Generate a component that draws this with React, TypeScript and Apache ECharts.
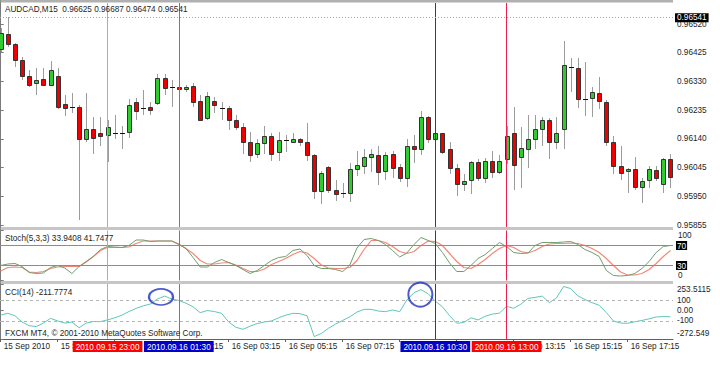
import React, { useEffect, useRef } from "react";
import * as echarts from "echarts";

const symbolTitle = "AUDCAD,M15  0.96625 0.96687 0.96474 0.96541";
const stochTitle = "Stoch(5,3,3) 33.9408 41.7477";
const cciTitle = "CCI(14) -211.7774";
const copyright = "FXCM MT4, © 2001-2010 MetaQuotes Software Corp.";

const opens = [
  0.96437, 0.96487, 0.96454, 0.964, 0.96347, 0.96324, 0.96337, 0.96317, 0.96347, 0.96254,
  0.96244, 0.96244, 0.96138, 0.96171, 0.96158, 0.96154, 0.96161, 0.96158, 0.96164, 0.96261,
  0.96241, 0.96244, 0.96257, 0.96341, 0.96311, 0.96311, 0.96304, 0.96314, 0.96264, 0.96208,
  0.96264, 0.96241, 0.96241, 0.96201, 0.96178, 0.96128, 0.96091, 0.96125, 0.96151, 0.96095,
  0.96135, 0.96131, 0.96141, 0.96128, 0.96088, 0.95968, 0.96048, 0.95972, 0.95962, 0.95962,
  0.96041, 0.96051, 0.96081, 0.96088, 0.96035, 0.96091, 0.96048, 0.96011, 0.96118, 0.96108,
  0.96211, 0.96141, 0.96158, 0.96105, 0.96045, 0.95992, 0.96005, 0.96065, 0.96011, 0.96068,
  0.96031, 0.96075, 0.96158, 0.96081, 0.96108, 0.96141, 0.96171, 0.96204, 0.96128, 0.96174,
  0.96377, 0.96374, 0.96271, 0.96274, 0.96291, 0.96261, 0.96128, 0.96051, 0.96035, 0.96041,
  0.95982, 0.96005, 0.96038, 0.95992, 0.96075,
];
const highs = [
  0.96507, 0.96543, 0.96457, 0.9641, 0.96367, 0.96374, 0.96374, 0.96397, 0.96374, 0.96284,
  0.96291, 0.96251, 0.96291, 0.96211, 0.96211, 0.96201, 0.96218, 0.96184, 0.96271, 0.96274,
  0.96301, 0.96261, 0.96354, 0.96354, 0.96334, 0.96334, 0.96317, 0.96324, 0.96284, 0.96294,
  0.96277, 0.96261, 0.96248, 0.96218, 0.96191, 0.96164, 0.96141, 0.96181, 0.96158, 0.96164,
  0.96154, 0.96158, 0.96144, 0.96191, 0.96091, 0.96035, 0.96051, 0.96005, 0.95995, 0.96061,
  0.96101, 0.96105, 0.96108, 0.96118, 0.96095, 0.96101, 0.96058, 0.96138, 0.96154, 0.96231,
  0.96214, 0.96174, 0.96161, 0.96128, 0.96058, 0.96025, 0.96068, 0.96075, 0.96078, 0.96101,
  0.96088, 0.96181, 0.96244, 0.96178, 0.96218, 0.96218, 0.96211, 0.96208, 0.96211, 0.96464,
  0.96407, 0.96407, 0.96394, 0.96311, 0.96344, 0.96268, 0.96148, 0.96115, 0.96045, 0.96081,
  0.96011, 0.96051, 0.96051, 0.96078, 0.96091,
];
const lows = [
  0.96427, 0.96444, 0.96377, 0.96334, 0.96311, 0.96284, 0.96314, 0.96314, 0.96238, 0.96214,
  0.96224, 0.95872, 0.96131, 0.96091, 0.96115, 0.96065, 0.96141, 0.96108, 0.96144, 0.96204,
  0.96218, 0.96218, 0.96251, 0.96284, 0.96244, 0.96277, 0.96294, 0.96244, 0.96198, 0.96201,
  0.96224, 0.96201, 0.96168, 0.96168, 0.96091, 0.96065, 0.96078, 0.96091, 0.96068, 0.96068,
  0.96098, 0.96128, 0.96118, 0.96068, 0.95942, 0.95925, 0.95962, 0.95935, 0.95945, 0.95932,
  0.96018, 0.96025, 0.96031, 0.95988, 0.96005, 0.96011, 0.95998, 0.95982, 0.96061, 0.96085,
  0.96125, 0.96118, 0.96091, 0.96025, 0.95952, 0.95968, 0.95958, 0.96002, 0.95995, 0.96011,
  0.96025, 0.96058, 0.95972, 0.95978, 0.96045, 0.96108, 0.96118, 0.96075, 0.96108, 0.96105,
  0.96294, 0.96241, 0.96214, 0.96211, 0.96238, 0.96118, 0.96025, 0.96005, 0.95962, 0.95972,
  0.95928, 0.95978, 0.96002, 0.95962, 0.95978,
];
const closes = [
  0.9649, 0.96454, 0.964, 0.96347, 0.96317, 0.96334, 0.96317, 0.96367, 0.96244, 0.96241,
  0.96243, 0.96141, 0.96174, 0.96144, 0.96148, 0.96178, 0.9616, 0.96157, 0.96251, 0.96231,
  0.9624, 0.96234, 0.96341, 0.96307, 0.9631, 0.96304, 0.96311, 0.96261, 0.96204, 0.96281,
  0.96251, 0.9624, 0.96201, 0.96178, 0.96131, 0.96088, 0.96125, 0.96151, 0.96091, 0.96135,
  0.96134, 0.96141, 0.96128, 0.96085, 0.95968, 0.96028, 0.95972, 0.95958, 0.95961, 0.96041,
  0.96055, 0.96081, 0.96091, 0.96031, 0.96088, 0.96045, 0.96011, 0.96118, 0.96108, 0.96211,
  0.96141, 0.96158, 0.96098, 0.96045, 0.95992, 0.96002, 0.96065, 0.96011, 0.96068, 0.96031,
  0.96068, 0.96148, 0.96055, 0.96111, 0.96141, 0.96171, 0.96204, 0.96128, 0.96161, 0.96384,
  0.96376, 0.96271, 0.9627, 0.96294, 0.96264, 0.96128, 0.96051, 0.96028, 0.96041, 0.95982,
  0.96002, 0.96041, 0.96011, 0.96075, 0.96015,
];

const stochMain = [
  30, 33, 34, 28, 16, 14, 15, 26, 30, 25, 14, 28, 38, 48, 62, 68, 67, 66, 70, 81,
  81, 78, 79, 79, 79, 72, 64, 46, 27, 27, 36, 42, 36, 30, 22, 14, 20, 30, 40, 46,
  48, 60, 63, 50, 30, 24, 24, 22, 18, 31, 65, 82, 84, 80, 72, 60, 47, 55, 72, 86,
  80, 74, 56, 35, 18, 18, 30, 44, 52, 64, 76, 68, 56, 54, 55, 70, 76, 76, 76, 77,
  78, 72, 62, 56, 48, 20, 10, 9, 10, 14, 24, 38, 56, 68, 70,
];
const stochSignal = [
  19, 26, 27, 26, 17, 16, 18, 24, 27, 28, 28, 28, 37, 48, 60, 66, 66, 66, 67, 74,
  79, 79, 79, 79, 79, 73, 64, 54, 40, 33, 33, 35, 36, 31, 24, 18, 18, 23, 32, 38,
  44, 52, 58, 55, 44, 31, 25, 24, 24, 26, 40, 62, 80, 80, 76, 68, 58, 54, 58, 70,
  79, 78, 70, 54, 38, 26, 24, 32, 42, 54, 64, 70, 66, 58, 55, 60, 68, 73, 74, 74,
  75, 74, 70, 64, 56, 44, 30, 17, 11, 11, 14, 22, 34, 48, 60,
];
const cciValues = [
  -43, -27, -50, -110, -145, -154, -120, -75, -100, -120, -110, -165, -120, -106, -106, -90, -70, -45, -10, 20,
  45, 62, 110, 138, 110, 96, 70, 35, -21, 0, -10, -27, -110, -160, -180, -150, -125, -110, -100, -70,
  -45, -27, -30, -50, -249, -220, -170, -130, -95, -60, -15, 11, 11, -5, -11, 5, -11, 100, 170, 200,
  160, 90, 36, -50, -122, -115, -70, -90, -55, -35, -25, 40, 21, 60, 116, 125, 138, 75, 120, 230,
  210, 140, 105, 75, 50, -20, -100, -120, -122, -108, -95, -80, -62, -58, -60,
];

const priceTicks = [0.95855, 0.9595, 0.96045, 0.9614, 0.96235, 0.9633, 0.96425, 0.9652];
const bidPrice = 0.96541;
const stochTicks = [0, 30, 70, 100];
const stochLevels = [70, 30];
const cciTicks = [253.5115, 100, 0, -100, -272.549];
const cciLevels = [100, -100];
const timeTickIndex = [0, 8, 16, 24, 32, 40, 48, 56, 64, 72, 80, 88];
const timeTickLabels = [
  "15 Sep 2010", "15 Sep 21:15", "15 Sep 23:15", "16 Sep 01:15", "16 Sep 03:15", "16 Sep 05:15",
  "16 Sep 07:15", "16 Sep 09:15", "16 Sep 11:15", "16 Sep 13:15", "16 Sep 15:15", "16 Sep 17:15",
];
// labels that are not entirely covered by the vertical-line date boxes
const shownLabelIndex = [0, 8, 24, 32, 40, 48, 72, 80, 88];
const vLineIndex = [15, 25, 61, 71];
const vLineLabels = ["2010.09.15 23:00", "2010.09.16 01:30", "2010.09.16 10:30", "2010.09.16 13:00"];
const cciMarks = [
  [22.5, 130],
  [58.9, 152],
];

const FONT = "Liberation Sans";
const FS = 8.2;
const TXT = "#1e1e1e";
const AX = "#7a7a7a";
const X_MIN = -0.098;
const X_MAX = 94.358;
const vLineColors = ["#ff8a80", "#6c6cf2", "#2a2ad8", "#ea2050"];
const vBoxColors = ["#ff0000", "#0000c8", "#0000c8", "#ff0000"];

function vLines(withLabel: boolean) {
  return vLineIndex.map((idx, k) => ({
    xAxis: idx,
    lineStyle: { color: vLineColors[k], type: "solid", width: 1, opacity: 1 },
    label: withLabel
      ? {
          show: true,
          position: "start",
          formatter: vLineLabels[k],
          backgroundColor: vBoxColors[k],
          color: "#fff",
          padding: [2, 3, 1, 3],
          fontSize: FS,
          fontFamily: FONT,
          distance: 2,
        }
      : { show: false },
  }));
}

function near(a: number, b: number) {
  return Math.abs(a - b) < 1e-6;
}

function buildOption(): any {
  const hiddenX = (gi: number) => ({
    gridIndex: gi,
    type: "value",
    min: X_MIN,
    max: X_MAX,
    show: false,
    splitLine: { show: false },
  });
  const yBase = {
    type: "value",
    position: "right",
    splitLine: { show: false },
    axisLine: { show: true, lineStyle: { color: AX } },
  };
  const candleData = opens.map((o, i) => [i, o, highs[i], lows[i], closes[i]]);
  return {
    animation: false,
    backgroundColor: "#ffffff",
    grid: [
      { left: 0, top: 3, width: 673, height: 224 },
      { left: 0, top: 230.5, width: 673, height: 50 },
      { left: 0, top: 284, width: 673, height: 55 },
    ],
    xAxis: [
      hiddenX(0),
      hiddenX(1),
      {
        gridIndex: 2,
        type: "value",
        min: X_MIN,
        max: X_MAX,
        splitLine: { show: false },
        axisLine: { show: true, onZero: false, lineStyle: { color: "#606060" } },
        axisTick: { show: true, length: 3, customValues: timeTickIndex, lineStyle: { color: "#606060" } },
        axisLabel: {
          customValues: shownLabelIndex,
          formatter: (v: number) => timeTickLabels[timeTickIndex.indexOf(Math.round(v))] || "",
          align: "left",
          padding: [0, 0, 0, 3],
          margin: 3,
          color: TXT,
          fontSize: FS,
          fontFamily: FONT,
        },
      },
    ],
    yAxis: [
      {
        ...yBase,
        gridIndex: 0,
        min: 0.958484,
        max: 0.965895,
        axisTick: { show: true, length: 3, customValues: priceTicks, lineStyle: { color: AX } },
        axisLabel: {
          customValues: priceTicks,
          formatter: (v: number) => v.toFixed(5),
          color: TXT,
          fontSize: FS,
          fontFamily: FONT,
          margin: 4,
        },
      },
      {
        ...yBase,
        gridIndex: 1,
        min: 0,
        max: 100,
        axisTick: { show: true, length: 3, customValues: stochTicks, lineStyle: { color: AX } },
        axisLabel: {
          customValues: stochTicks,
          formatter: (v: number) =>
            near(v, 70) || near(v, 30) ? `{b|${Math.round(v)}}` : near(v, 100) ? "{t|100}" : "{z|0}",
          margin: 3,
          color: TXT,
          fontSize: FS,
          fontFamily: FONT,
          rich: {
            b: { backgroundColor: "#000", color: "#fff", padding: [1, 1, 0, 1], fontSize: FS, fontFamily: FONT },
            t: { padding: [9, 0, 0, 2], color: TXT, fontSize: FS, fontFamily: FONT },
            z: { padding: [0, 0, 11, 2], color: TXT, fontSize: FS, fontFamily: FONT },
          },
        },
      },
      {
        ...yBase,
        gridIndex: 2,
        min: -272.549,
        max: 253.5115,
        axisTick: { show: true, length: 3, customValues: cciTicks, lineStyle: { color: AX } },
        axisLabel: {
          customValues: cciTicks,
          formatter: (v: number) => {
            if (near(v, 253.5115)) return "{t|253.5115}";
            if (near(v, -272.549)) return "{z|-272.549}";
            if (near(v, 0)) return "0.00";
            return String(Math.round(v));
          },
          margin: 4,
          color: TXT,
          fontSize: FS,
          fontFamily: FONT,
          rich: {
            t: { padding: [10, 0, 0, 0], color: TXT, fontSize: FS, fontFamily: FONT },
            z: { padding: [0, 0, 11, 0], color: TXT, fontSize: FS, fontFamily: FONT },
          },
        },
      },
    ],
    series: [
      {
        type: "line",
        xAxisIndex: 0,
        yAxisIndex: 0,
        data: closes.map((c, i) => [i, c]),
        showSymbol: false,
        silent: true,
        lineStyle: { opacity: 0 },
        z: 1,
        markLine: {
          silent: true,
          precision: 5,
          symbol: ["none", "none"],
          data: [
            ...vLines(false),
            {
              yAxis: bidPrice,
              lineStyle: { type: [1, 2], color: "#93a9c0", width: 1, opacity: 1 },
              label: {
                show: true,
                position: "end",
                formatter: bidPrice.toFixed(5),
                backgroundColor: "#000",
                color: "#fff",
                padding: [1, 2, 0, 2],
                distance: 2,
                fontSize: FS,
                fontFamily: FONT,
              },
            },
          ],
        },
      },
      {
        type: "custom",
        xAxisIndex: 0,
        yAxisIndex: 0,
        clip: true,
        z: 3,
        data: candleData,
        encode: { x: 0, y: [1, 2, 3, 4] },
        renderItem: (_params: any, api: any) => {
          const i = api.value(0);
          const o = api.value(1);
          const h = api.value(2);
          const l = api.value(3);
          const c = api.value(4);
          const po = api.coord([i, o]);
          const pc = api.coord([i, c]);
          const ph = api.coord([i, h]);
          const pl = api.coord([i, l]);
          const cx = Math.round(po[0]) + 0.5;
          const top = Math.round(Math.min(po[1], pc[1])) + 0.5;
          const bot = Math.round(Math.max(po[1], pc[1])) + 0.5;
          const children: any[] = [
            {
              type: "line",
              shape: { x1: cx, y1: Math.round(ph[1]), x2: cx, y2: Math.round(pl[1]) },
              style: { stroke: "#9c9c9c", lineWidth: 1 },
            },
          ];
          if (bot - top < 1.5) {
            children.push({
              type: "line",
              shape: { x1: cx - 2.5, y1: top, x2: cx + 2.5, y2: top },
              style: { stroke: "#111", lineWidth: 1 },
            });
          } else {
            children.push({
              type: "rect",
              shape: { x: cx - 2, y: top, width: 4, height: bot - top },
              style: { fill: c > o ? "#2fcb2f" : "#ee0000", stroke: "#333333", lineWidth: 1 },
            });
          }
          return { type: "group", children };
        },
      },
      {
        type: "line",
        xAxisIndex: 1,
        yAxisIndex: 1,
        data: stochSignal.map((v, i) => [i, v]),
        showSymbol: false,
        silent: true,
        lineStyle: { color: "#f48878", width: 1.2 },
        z: 3,
      },
      {
        type: "line",
        xAxisIndex: 1,
        yAxisIndex: 1,
        data: stochMain.map((v, i) => [i, v]),
        showSymbol: false,
        silent: true,
        lineStyle: { color: "#6e9e6e", width: 1 },
        z: 4,
        markLine: {
          silent: true,
          symbol: ["none", "none"],
          data: [
            ...stochLevels.map((lv) => ({
              yAxis: lv,
              lineStyle: { color: "#8c8c8c", type: "solid", width: 1 },
              label: { show: false },
            })),
            ...vLines(false),
          ],
        },
      },
      {
        type: "line",
        xAxisIndex: 2,
        yAxisIndex: 2,
        data: cciValues.map((v, i) => [i, v]),
        showSymbol: false,
        silent: true,
        lineStyle: { color: "#5fc6b9", width: 1 },
        z: 4,
        markLine: {
          silent: true,
          symbol: ["none", "none"],
          data: [
            ...cciLevels.map((lv) => ({
              yAxis: lv,
              lineStyle: { color: "#b4b4b4", type: [3, 3], width: 1 },
              label: { show: false },
            })),
            ...vLines(true),
          ],
        },
      },
      {
        type: "scatter",
        xAxisIndex: 2,
        yAxisIndex: 2,
        data: cciMarks,
        silent: true,
        clip: false,
        z: 5,
        symbol: "circle",
        symbolSize: (_v: any, p: any) => (p.dataIndex === 0 ? [24, 16] : [24, 24]),
        itemStyle: { color: "rgba(0,0,0,0)", borderColor: "#1f2fc0", borderWidth: 2 },
      },
    ],
    graphic: [
      { type: "rect", silent: true, shape: { x: 0, y: 0, width: 673, height: 2.5 }, style: { fill: "#b0b0b0" } },
      { type: "rect", silent: true, shape: { x: 0, y: 227, width: 673, height: 3 }, style: { fill: "#c6c6c6" } },
      { type: "rect", silent: true, shape: { x: 0, y: 281, width: 673, height: 3 }, style: { fill: "#c6c6c6" } },
      { type: "line", silent: true, shape: { x1: 0.5, y1: 0, x2: 0.5, y2: 340 }, style: { stroke: "#909090", lineWidth: 1 } },
      {
        type: "text",
        silent: true,
        x: 5,
        y: 9,
        z: 10,
        style: { text: symbolTitle, fill: TXT, font: `${FS}px "${FONT}"`, verticalAlign: "middle" },
      },
      {
        type: "text",
        silent: true,
        x: 5,
        y: 238,
        z: 10,
        style: { text: stochTitle, fill: TXT, font: `${FS}px "${FONT}"`, verticalAlign: "middle" },
      },
      {
        type: "text",
        silent: true,
        x: 5,
        y: 292,
        z: 10,
        style: { text: cciTitle, fill: TXT, font: `${FS}px "${FONT}"`, verticalAlign: "middle" },
      },
      {
        type: "text",
        silent: true,
        x: 5,
        y: 333,
        z: 10,
        style: { text: copyright, fill: TXT, font: `${FS}px "${FONT}"`, verticalAlign: "middle" },
      },
    ],
  };
}

export default function App() {
  const ref = useRef<HTMLDivElement>(null);
  useEffect(() => {
    if (!ref.current) return;
    const chart = echarts.init(ref.current, null, { renderer: "svg" });
    chart.setOption(buildOption());
    return () => chart.dispose();
  }, []);
  return (
    <div
      ref={ref}
      style={{ position: "absolute", left: 0, top: 0, width: 720, height: 375, background: "#fff" }}
    />
  );
}
